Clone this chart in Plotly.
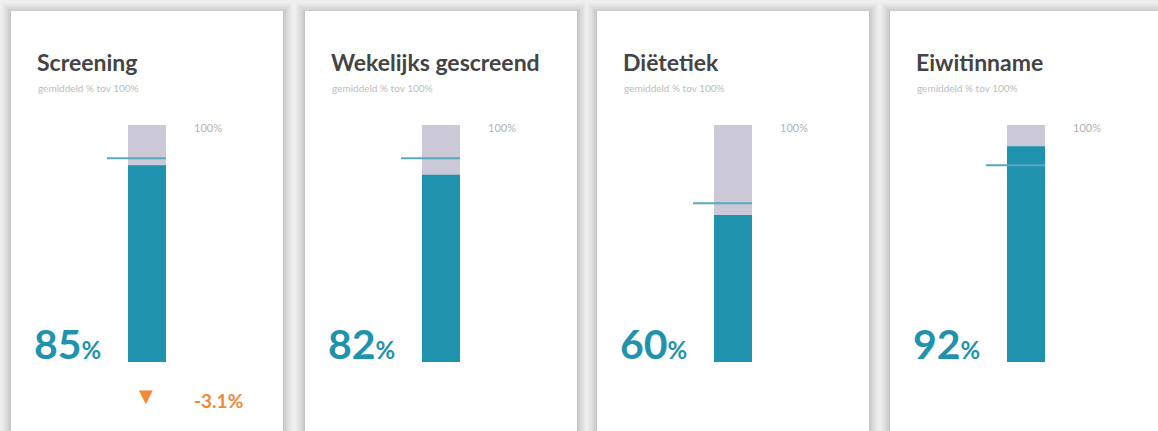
import plotly.graph_objects as go

# ---- data ----
titles = ["Screening", "Wekelijks gescreend", "Diëtetiek", "Eiwitinname"]
subtitle = "gemiddeld % tov 100%"
display_pct = [85, 82, 60, 92]          # big labels
bar_values = [83, 79, 62, 91]           # bar heights
target_values = [86, 86, 67, 83]        # thin reference line
max_values = [100, 100, 100, 100]
max_label = "100%"
changes = [-3.1, None, None, None]

# ---- layout constants ----
W, H = 1158, 431
card_left = [11, 305, 597, 890]
card_w = 272
card_top = 11
bar_off = 117
bar_w = 38
line_off = 96
y_zero_px, y_full_px = 362, 125

TEAL = "#1f93ad"
GREY = "#cbc9d8"
LINE = "#58a9be"
ORANGE = "#f0883a"

def px(x):
    return x / W

def py(y):
    return 1 - y / H

fig = go.Figure()
shapes = []
annotations = []

for i, cl in enumerate(card_left):
    # soft shadow layers
    for k, op in [(9, 0.025), (7, 0.03), (5, 0.035), (3, 0.045), (1, 0.055)]:
        shapes.append(dict(type="rect", xref="paper", yref="paper",
                           x0=px(cl - k), x1=px(cl + card_w + k),
                           y0=py(H + 20), y1=py(card_top - k + 1),
                           fillcolor=f"rgba(0,0,0,{op})", line=dict(width=0), layer="below"))
    shapes.append(dict(type="rect", xref="paper", yref="paper",
                       x0=px(cl), x1=px(cl + card_w), y0=py(H + 20), y1=py(card_top),
                       fillcolor="white", line=dict(width=0), layer="below"))

    xa = "x" if i == 0 else f"x{i+1}"
    ya = "y" if i == 0 else f"y{i+1}"
    span = bar_off + bar_w - line_off
    bar_center = bar_off - line_off + bar_w / 2

    fig.add_trace(go.Bar(x=[bar_center], y=[max_values[i]], width=[bar_w],
                         marker=dict(color=GREY, line=dict(width=0)),
                         xaxis=xa, yaxis=ya, hoverinfo="skip", showlegend=False))
    fig.add_trace(go.Bar(x=[bar_center], y=[bar_values[i]], width=[bar_w],
                         marker=dict(color=TEAL, line=dict(width=0)),
                         xaxis=xa, yaxis=ya, hoverinfo="skip", showlegend=False))
    fig.add_trace(go.Scatter(x=[0, span], y=[target_values[i], target_values[i]],
                             mode="lines", line=dict(color=LINE, width=2),
                             xaxis=xa, yaxis=ya, hoverinfo="skip", showlegend=False))

    axis_common = dict(showgrid=False, zeroline=False, showticklabels=False,
                       showline=False, fixedrange=True)
    fig.layout[("xaxis" if i == 0 else f"xaxis{i+1}")] = dict(
        domain=[px(cl + line_off), px(cl + bar_off + bar_w)],
        range=[0, span], anchor=ya, **axis_common)
    fig.layout[("yaxis" if i == 0 else f"yaxis{i+1}")] = dict(
        domain=[py(y_zero_px), py(y_full_px)],
        range=[0, 100], anchor=xa, **axis_common)

    # texts
    annotations.append(dict(xref="paper", yref="paper", x=px(cl + 24), y=py(62),
                            xanchor="left", yanchor="middle", showarrow=False,
                            text=f"<b>{titles[i]}</b>",
                            font=dict(family="Lato", size=23, color="#444444")))
    annotations.append(dict(xref="paper", yref="paper", x=px(cl + 25), y=py(88),
                            xanchor="left", yanchor="middle", showarrow=False,
                            text=subtitle,
                            font=dict(family="Lato", size=10, color="#bdbdbd")))
    annotations.append(dict(xref="paper", yref="paper", x=px(cl + 181), y=py(127),
                            xanchor="left", yanchor="middle", showarrow=False,
                            text=max_label,
                            font=dict(family="Lato", size=11, color="#b3b3b3")))
    annotations.append(dict(xref="paper", yref="paper", x=px(cl + 21), y=py(370),
                            xanchor="left", yanchor="bottom", showarrow=False,
                            text=f"<b>{display_pct[i]}</b><span style='font-size:24px'><b>%</b></span>",
                            font=dict(family="Lato", size=41, color=TEAL)))
    if changes[i] is not None:
        annotations.append(dict(xref="paper", yref="paper", x=px(cl + bar_off + bar_w / 2 - 1), y=py(395),
                                xanchor="center", yanchor="middle", showarrow=False,
                                text="▼" if changes[i] < 0 else "▲",
                                font=dict(family="DejaVu Sans", size=18, color=ORANGE)))
        annotations.append(dict(xref="paper", yref="paper", x=px(cl + 181), y=py(400),
                                xanchor="left", yanchor="middle", showarrow=False,
                                text=f"<b>{changes[i]:+.1f}%</b>".replace("+", ""),
                                font=dict(family="Lato", size=19, color=ORANGE)))

fig.update_layout(width=W, height=H, margin=dict(l=0, r=0, t=0, b=0),
                  paper_bgcolor="#efefef", plot_bgcolor="rgba(0,0,0,0)",
                  barmode="overlay", shapes=shapes, annotations=annotations,
                  showlegend=False)

fig.write_html("out.html", config={"displayModeBar": False},
               post_script="document.body.style.margin='0';document.body.style.overflow='hidden';")
